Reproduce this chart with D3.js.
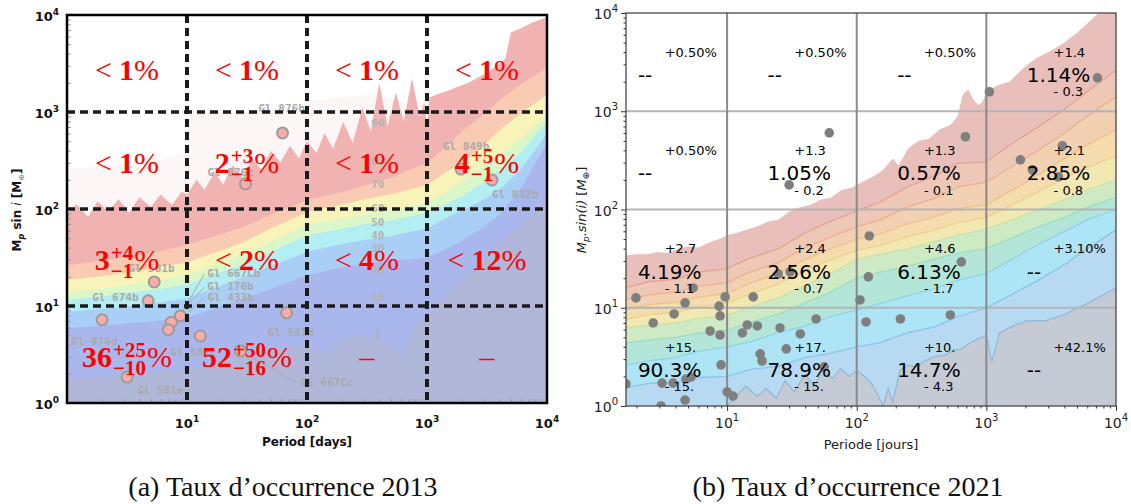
<!DOCTYPE html>
<html>
<head>
<meta charset="utf-8">
<script src="https://cdn.jsdelivr.net/npm/d3@7"></script>
<style>
  body { margin: 0; background: #fff; }
  svg { display: block; }
</style>
</head>
<body>
<svg id="fig" width="1131" height="504"></svg>
<script>
// ---------- panel (a) : 2013 ----------
const grid2013 = [1, 2, 3, 5, 10, 20, 30, 50, 100, 200, 300, 500, 700, 1000, 1400, 2000, 3000, 4000, 6000, 10000];
const faintTopP2013 = [1, 5, 9.5, 10.5, 30, 100, 105, 300, 1000];
const faintTopM2013 = [260, 300, 380, 950, 1000, 1000, 1300, 1500, 1200];
const pinkTopP2013 = [1, 1.2, 1.5, 1.8, 2.2, 2.7, 3.3, 4, 5, 6, 7.5, 9, 10, 12, 14, 17, 20, 24, 29, 35, 42, 50, 60, 72, 86, 100, 120, 140, 165, 200, 240, 290, 340, 400, 470, 550, 640, 750, 870, 950, 1000, 1050, 1200, 1500, 1800, 2200, 2700, 3300, 4000, 4500, 5000, 6000, 7500, 9000, 10000];
const pinkTopM2013 = [89, 112, 83, 120, 95, 126, 91, 132, 105, 141, 110, 151, 141, 200, 158, 240, 178, 282, 209, 331, 251, 398, 302, 447, 331, 501, 380, 603, 417, 794, 479, 1122, 631, 1995, 708, 1585, 794, 2239, 891, 1259, 708, 1413, 1514, 1660, 1820, 1995, 2291, 2630, 3162, 3548, 6607, 7244, 8318, 9120, 9550];
const peach2013 = [26.3, 29.5, 31.6, 34.7, 42.7, 56.2, 66.1, 87.1, 123, 151, 174, 209, 251, 295, 427, 646, 955, 1318, 1905, 2884];
const yellow2013 = [18.6, 20.4, 21.9, 24.0, 28.2, 38.0, 45.7, 63.1, 93.3, 112, 126, 141, 158, 178, 234, 316, 457, 646, 955, 1514];
const green2013 = [13.8, 15.1, 16.2, 17.8, 20.9, 28.2, 33.9, 45.7, 69.2, 79.4, 87.1, 95.5, 105, 115, 145, 200, 282, 363, 525, 933];
const cyan2013 = [11.5, 12.6, 13.5, 14.5, 16.6, 22.9, 27.5, 36.3, 53.7, 63.1, 69.2, 75.9, 83.2, 91.2, 110, 138, 191, 251, 380, 794];
const blue2013 = [8.71, 9.33, 9.77, 10.5, 12.0, 16.6, 20.0, 25.7, 36.3, 43.7, 47.9, 52.5, 57.5, 63.1, 79.4, 97.7, 126, 158, 251, 603];
const lavender2013 = [5.89, 6.31, 6.61, 6.92, 7.59, 10, 12.0, 15.1, 20.9, 25.1, 27.5, 29.5, 30.2, 31.6, 38.0, 47.9, 66.1, 87.1, 158, 479];
const greyP2013 = [1, 2, 3, 5, 10, 20, 30, 50, 100, 150, 200, 300, 400, 500, 600, 700, 800, 1000, 1400, 2000, 3000, 4000, 6000, 10000];
const greyM2013 = [1.74, 1.82, 2.0, 2.09, 2.19, 2.75, 3.09, 3.55, 3.98, 3.16, 4.57, 5.01, 4.37, 3.98, 3.02, 4.17, 6.31, 7.76, 12.0, 18.6, 30.2, 42.7, 69.2, 123];
const bandColors2013 = ["#f1b3b1", "#f9cbb3", "#f8f3b8", "#d9f7c9", "#b2eef2", "#aacff7", "#a9b7ec", "#b1b7d9"];

const levelNames2013 = ["90", "80", "70", "60", "50", "40", "30", "20", "10", "1"];
const levelMass2013 = [771, 313, 181, 102, 73, 54, 40, 23.5, 12.4, 5.3];
const levelPeriod2013 = 389;

const planets2013 = ["Gl 876b", "Gl 876c", "Gl 849b", "Gl 832b", "Gl 581b", "Gl 674b", "Gl 876d", "Gl 667Cb", "Gl 176b", "Gl 433b", "Gl 581c", "Gl 581e", "Gl 667Cc", "Gl 581d"];
const planetP2013 = [62.5, 30.7, 1920, 3480, 5.33, 4.75, 1.96, 8.8, 7.4, 7.0, 12.9, 3.17, 27.9, 67.6];
const planetM2013 = [608, 181, 258, 199, 17.7, 11.3, 7.2, 7.9, 6.8, 5.7, 4.9, 1.85, 3.44, 8.5];

// rows: mass decades 10^3, 10^2, 10^1, 10^0 ; columns: period decades 10^0 .. 10^3
const rateValue2013 = [["<1", "<1", "<1", "<1"], ["<1", "2", "<1", "4"], ["3", "<2", "<4", "<12"], ["36", "52", "", ""]];
const rateUpper2013 = [["", "", "", ""], ["", "+3", "", "+5"], ["+4", "", "", ""], ["+25", "+50", "", ""]];
const rateLower2013 = [["", "", "", ""], ["", "\u22121", "", "\u22121"], ["\u22121", "", "", ""], ["\u221210", "\u221216", "", ""]];

// ---------- panel (b) : 2021 ----------
const grid2021 = [1.66, 2.5, 4, 6, 10, 15, 25, 40, 60, 100, 150, 250, 400, 600, 1000, 1500, 2500, 4000, 6000, 10000];
const redTopP2021 = [1.66, 2, 2.4, 2.9, 3.5, 4.2, 5, 6, 7.2, 8.7, 10, 12, 14.5, 17.4, 21, 25, 30, 36, 44, 52, 63, 76, 91, 110, 132, 158, 190, 210, 250, 300, 360, 440, 525, 600, 660, 725, 795, 870, 935, 1000, 1200, 1500, 2000, 2500, 3200, 4000, 5000, 6300, 7600, 10000];
const redTopM2021 = [34, 35, 35, 37, 36, 40, 42, 41, 46, 50, 55, 58, 63, 68, 76, 79, 95, 105, 112, 126, 132, 158, 166, 190, 214, 250, 330, 280, 420, 500, 525, 660, 720, 890, 1500, 1660, 1320, 1150, 1260, 1580, 1820, 2000, 2880, 3550, 4170, 5000, 6300, 8300, 10500, 14000];
const salmon2021 = [16, 18.5, 19.5, 23, 25, 32, 40, 58, 74, 97, 118, 172, 220, 295, 305, 450, 690, 1050, 1580, 2630];
const peach2021 = [12, 13.5, 14.5, 16.5, 18, 23, 29, 41, 51, 67, 78, 107, 130, 170, 190, 263, 400, 600, 890, 1410];
const orange2021 = [9.5, 10.8, 11.3, 12.8, 14, 17.8, 22.5, 31, 39, 50, 56, 72, 84, 102, 112, 151, 224, 331, 457, 646];
const yellow2021 = [7.6, 8.5, 9, 10.2, 11.2, 13.8, 17.5, 24, 30, 38.5, 43, 53, 62, 73, 83, 107, 151, 209, 269, 347];
const green2021 = [6.3, 6.6, 7.0, 7.8, 8.3, 10.2, 12.7, 17, 21.5, 31, 35, 40, 47, 55, 63, 76, 100, 126, 158, 200];
const teal2021 = [4.4, 4.7, 5.0, 5.5, 5.9, 7.1, 8.6, 11.2, 14, 20, 23, 26.5, 31.5, 36, 40, 50, 66, 83, 105, 132];
const cyan2021 = [2.6, 2.9, 3.1, 3.6, 4.0, 4.5, 5.6, 6.5, 8.0, 9.5, 11, 13.3, 15.7, 19, 22.4, 30, 44, 60, 79, 100];
const blue2021 = [1.55, 1.7, 1.75, 1.95, 2.0, 2.35, 2.55, 3.1, 3.4, 4.0, 4.4, 5.6, 6.4, 8.1, 10, 13.2, 19, 27.5, 40, 62];
const greyP2021 = [1.66, 5, 8, 10, 12, 14, 17, 20, 24, 28, 33, 40, 47, 55, 65, 75, 88, 100, 115, 130, 145, 160, 175, 190, 215, 250, 290, 340, 400, 480, 560, 640, 730, 850, 1000, 1100, 1260, 1600, 2050, 2900, 4000, 6000, 10000];
const greyM2021 = [0.7, 0.8, 0.9, 1.0, 1.3, 1.6, 1.25, 1.5, 1.2, 1.8, 1.4, 2.1, 1.6, 2.3, 1.9, 2.4, 2.0, 2.3, 2.0, 1.7, 1.3, 1.0, 1.5, 1.1, 2.3, 2.6, 2.5, 2.9, 3.2, 3.3, 3.7, 3.8, 4.3, 4.8, 5.2, 2.8, 5.5, 6.5, 7.4, 7.4, 8.5, 11, 16];
const bandColors2021 = ["#e9bfbb", "#eec7b7", "#f2d0b2", "#f4dcae", "#f2e8b2", "#cdeac4", "#b3e6d8", "#ade5f6", "#b7d9f2", "#c4cbd4"];
const lineColors2021 = ["#e2a393", "#eab08f", "#efc08a", "#f0cf8a", "#c8e2a8", "#9edcc0", "#8dd3e6", "#8cc3ea", "#95b8d6"];

const planetP2021 = [61.4, 30.1, 1055, 7190, 689, 3860, 1830, 2265, 3600, 125, 123, 1.98, 5.46, 4.74, 9.66, 8.67, 8.83, 15.9, 3.90, 2.69, 24.8, 30.6, 106, 48.6, 118, 7.40, 8.83, 14.3, 17.1, 25.6, 36.7, 13.1, 28.6, 18.0, 18.6, 8.99, 1.66, 3.15, 3.83, 5.27, 4.81, 10.0, 11.1, 4.74, 3.09, 56.1, 217, 527, 641];
const planetM2021 = [603, 178, 1580, 2190, 550, 444, 320, 253, 215, 53.8, 20.6, 12.6, 15.9, 11.2, 12.9, 10.4, 8.26, 12.9, 8.65, 7.0, 22.1, 23.2, 12.0, 7.69, 7.17, 5.80, 5.28, 6.68, 6.53, 6.23, 5.41, 5.54, 3.81, 3.39, 2.87, 2.62, 1.68, 1.71, 1.71, 1.97, 1.88, 1.39, 1.26, 1.15, 1.0, 2.50, 7.69, 8.45, 29.3];

const occValue2021 = [["--", "--", "--", "1.14%"], ["--", "1.05%", "0.57%", "2.85%"], ["4.19%", "2.56%", "6.13%", "--"], ["90.3%", "78.9%", "14.7%", "--"]];
const occPlus2021 = [["+0.50%", "+0.50%", "+0.50%", "+1.4"], ["+0.50%", "+1.3", "+1.3", "+2.1"], ["+2.7", "+2.4", "+4.6", "+3.10%"], ["+15.", "+17.", "+10.", "+42.1%"]];
const occMinus2021 = [["", "", "", "- 0.3"], ["", "- 0.2", "- 0.1", "- 0.8"], ["- 1.1", "- 0.7", "- 1.7", ""], ["- 15.", "- 15.", "- 4.3", ""]];

const decades = [1, 10, 100, 1000, 10000];
const captions = ["(a) Taux d\u2019occurrence 2013", "(b) Taux d\u2019occurrence 2021"];

// ---------- drawing ----------
const svg = d3.select("#fig");
const defs = svg.append("defs");

function clipRect(id, x0, y0, x1, y1) {
    defs.append("clipPath").attr("id", id).append("rect")
        .attr("x", x0).attr("y", y0).attr("width", x1 - x0).attr("height", y1 - y0);
    return "url(#" + id + ")";
}

function fillBelow(g, xs, ys, P, M, color, bottom, opacity) {
    const area = d3.area().x(d => xs(d[0])).y0(bottom).y1(d => ys(d[1]));
    g.append("path").datum(d3.zip(P, M)).attr("d", area)
        .attr("fill", color).attr("fill-opacity", opacity == null ? 1 : opacity);
}

function powText(sel, exp, supSize, rise) {
    sel.append("tspan").text("10");
    sel.append("tspan").attr("dy", -rise).attr("font-size", supSize).text(exp);
}

// ===== panel (a) =====
const A = {l: 67, r: 547, t: 15, b: 403};
const xA = d3.scaleLog().domain([1, 1e4]).range([A.l, A.r]);
const yA = d3.scaleLog().domain([1, 1e4]).range([A.b, A.t]);
const gA = svg.append("g");
const bgA = gA.append("g").attr("clip-path", clipRect("clipA", A.l, A.t, A.r, A.b));

fillBelow(bgA, xA, yA, faintTopP2013, faintTopM2013, bandColors2013[0], A.b, 0.12);
fillBelow(bgA, xA, yA, pinkTopP2013, pinkTopM2013, bandColors2013[0], A.b);
[peach2013, yellow2013, green2013, cyan2013, blue2013, lavender2013].forEach((m, i) => {
    fillBelow(bgA, xA, yA, grid2013, m, bandColors2013[i + 1], A.b);
});
fillBelow(bgA, xA, yA, greyP2013, greyM2013, bandColors2013[7], A.b);

// contour level labels
gA.append("g").selectAll("text").data(levelNames2013).join("text")
    .attr("x", xA(levelPeriod2013)).attr("y", (d, i) => yA(levelMass2013[i]) + 4)
    .attr("text-anchor", "middle").attr("font-family", "DejaVu Sans Mono").attr("font-weight", "bold")
    .attr("font-size", 11).attr("fill", "#b2b2b2").text(d => d);

// planets
const labelOffset2013 = [[-24, -21], [-38, -8], [-18, -19], [0, 18], [-26, -10], [-56, 0], [-31, 25], [27, -39], [36, -32], [39, -29], [-30, 20], [10, 17], [60, 35], [-19, 23]];
const leader2013 = [7, 8, 9, 12];
const plA = gA.append("g");
leader2013.forEach(i => {
    const x = xA(planetP2013[i]), y = yA(planetM2013[i]);
    plA.append("line").attr("x1", x).attr("y1", y)
        .attr("x2", x + labelOffset2013[i][0] - 3).attr("y2", y + labelOffset2013[i][1] - 3)
        .attr("stroke", "#aaa").attr("stroke-width", 1);
});
plA.selectAll("text").data(planets2013).join("text")
    .attr("x", (d, i) => xA(planetP2013[i]) + labelOffset2013[i][0])
    .attr("y", (d, i) => yA(planetM2013[i]) + labelOffset2013[i][1])
    .attr("font-family", "DejaVu Sans Mono").attr("font-weight", "bold").attr("font-size", 11)
    .attr("fill", "#a9a9a9").text(d => d);
plA.selectAll("circle").data(planets2013).join("circle")
    .attr("cx", (d, i) => xA(planetP2013[i])).attr("cy", (d, i) => yA(planetM2013[i]))
    .attr("r", 5.5).attr("fill", "#f9aca9").attr("stroke", "#9c9c9c").attr("stroke-width", 2);

// dashed grid
const dashA = gA.append("g").attr("stroke", "#1a1a1a").attr("stroke-width", 3.5).attr("stroke-dasharray", "8,5");
decades.slice(1, 4).forEach(v => {
    dashA.append("line").attr("x1", A.l).attr("x2", A.r).attr("y1", yA(v)).attr("y2", yA(v));
    dashA.append("line").attr("y1", A.t).attr("y2", A.b).attr("x1", xA(v)).attr("x2", xA(v)).attr("stroke-width", 4);
});

// occurrence rates (red)
const rowShift = [16, 12, 12, 12];
const redA = gA.append("g").attr("font-family", "Liberation Serif, DejaVu Serif, serif").attr("fill", "#ff0000");
rateValue2013.forEach((row, i) => row.forEach((v, j) => {
    const cx = xA(Math.pow(10, j + 0.5));
    const base = yA(Math.pow(10, 3 - i + 0.5)) + rowShift[i];
    const g = redA.append("g");
    if (v === "") {
        g.append("text").attr("font-size", 30).text("\u2013");
    } else if (v[0] === "<") {
        const t = g.append("text").attr("font-size", 30);
        t.append("tspan").text("<");
        t.append("tspan").attr("dx", 7).attr("font-weight", "bold").text(v.slice(1));
        t.append("tspan").text("%");
    } else {
        const t = g.append("text").attr("font-size", 30).attr("font-weight", "bold").text(v);
        const w = t.node().getComputedTextLength();
        const up = g.append("text").attr("x", w + 1).attr("y", -10).attr("font-size", 21).attr("font-weight", "bold").text(rateUpper2013[i][j]);
        const lo = g.append("text").attr("x", w + 1).attr("y", 8).attr("font-size", 21).attr("font-weight", "bold").text(rateLower2013[i][j]);
        const w2 = Math.max(up.node().getComputedTextLength(), lo.node().getComputedTextLength());
        g.append("text").attr("x", w + w2 + 2).attr("font-size", 30).text("%");
    }
    const bb = g.node().getBBox();
    g.attr("transform", `translate(${cx - bb.x - bb.width / 2},${base})`);
}));

// axes (a)
function innerTicks(g, axis) {
    g.call(axis);
    g.select(".domain").remove();
    g.selectAll("line").attr("stroke", "#9a9a9a");
}
const minorA = xA.ticks().filter(v => !decades.includes(v));
innerTicks(gA.append("g").attr("transform", `translate(0,${A.b})`),
    d3.axisBottom(xA).tickValues(minorA).tickSize(-4).tickFormat(""));
innerTicks(gA.append("g").attr("transform", `translate(${A.l},0)`),
    d3.axisLeft(yA).tickValues(minorA).tickSize(-4).tickFormat(""));
gA.append("rect").attr("x", A.l).attr("y", A.t).attr("width", A.r - A.l).attr("height", A.b - A.t)
    .attr("fill", "none").attr("stroke", "#000").attr("stroke-width", 2.5);

const tickA = gA.append("g").attr("font-family", "DejaVu Sans").attr("font-weight", "bold").attr("fill", "#111");
decades.forEach((v, k) => {
    powText(tickA.append("text").attr("x", A.l - 8).attr("y", yA(v) + 6).attr("text-anchor", "end").attr("font-size", 13), k, 9, 6);
    if (k > 0) powText(tickA.append("text").attr("x", xA(v)).attr("y", A.b + 25).attr("text-anchor", "middle").attr("font-size", 13), k, 9, 6);
});
tickA.append("text").attr("x", (A.l + A.r) / 2).attr("y", 446).attr("text-anchor", "middle").attr("font-size", 12).text("Period [days]");
const ylabA = tickA.append("text").attr("transform", "translate(21,210) rotate(-90)").attr("text-anchor", "middle").attr("font-size", 12);
ylabA.append("tspan").text("M");
ylabA.append("tspan").attr("dy", 3).attr("font-size", 8).attr("font-style", "italic").text("p");
ylabA.append("tspan").attr("dy", -3).text(" sin ");
ylabA.append("tspan").attr("font-style", "italic").attr("font-weight", "normal").text("i");
ylabA.append("tspan").text(" [M");
ylabA.append("tspan").attr("dy", 3).attr("font-size", 8).attr("fill", "#999").text("\u2295");
ylabA.append("tspan").attr("dy", -3).text("]");

// ===== panel (b) =====
const B = {l: 626, r: 1116, t: 13, b: 406};
const xB = d3.scaleLog().domain([1.66, 1e4]).range([B.l, B.r]);
const yB = d3.scaleLog().domain([1, 1e4]).range([B.b, B.t]);
const gB = svg.append("g");
const clipB = clipRect("clipB", B.l, B.t, B.r, B.b);
const bgB = gB.append("g").attr("clip-path", clipB);

const contours2021 = [salmon2021, peach2021, orange2021, yellow2021, green2021, teal2021, cyan2021, blue2021];
fillBelow(bgB, xB, yB, redTopP2021, redTopM2021, bandColors2021[0], B.b);
contours2021.forEach((m, i) => fillBelow(bgB, xB, yB, grid2021, m, bandColors2021[i + 1], B.b));
fillBelow(bgB, xB, yB, greyP2021, greyM2021, bandColors2021[9], B.b);
const lineB = d3.line().x(d => xB(d[0])).y(d => yB(d[1]));
contours2021.forEach((m, i) => {
    bgB.append("path").datum(d3.zip(grid2021, m)).attr("d", lineB)
        .attr("fill", "none").attr("stroke", lineColors2021[i]).attr("stroke-width", 1.3);
});
bgB.append("path").datum(d3.zip(greyP2021, greyM2021)).attr("d", lineB)
    .attr("fill", "none").attr("stroke", lineColors2021[8]).attr("stroke-width", 1.3);

// grid
decades.slice(1, 4).forEach(v => {
    gB.append("line").attr("x1", B.l).attr("x2", B.r).attr("y1", yB(v)).attr("y2", yB(v))
        .attr("stroke", "#b4b4b4").attr("stroke-width", 2);
});
decades.slice(1, 4).forEach(v => {
    gB.append("line").attr("y1", B.t).attr("y2", B.b).attr("x1", xB(v)).attr("x2", xB(v))
        .attr("stroke", "#8a8a8a").attr("stroke-width", 2);
});

// planets
gB.append("g").attr("clip-path", clipB).selectAll("circle").data(planetP2021).join("circle")
    .attr("cx", d => xB(d)).attr("cy", (d, i) => yB(planetM2021[i]))
    .attr("r", 4.8).attr("fill", "#7f7f7f");

// occurrence rates
const txtB = gB.append("g").attr("font-family", "DejaVu Sans").attr("fill", "#000");
occValue2021.forEach((row, i) => row.forEach((v, j) => {
    const k = 3 - i;
    const xBig = xB(2.05 * Math.pow(10, j)), xSmall = xB(3.3 * Math.pow(10, j));
    txtB.append("text").attr("x", xBig).attr("y", yB(Math.pow(10, k + 0.37))).attr("dy", "0.36em")
        .attr("font-size", 20).text(v);
    txtB.append("text").attr("x", xSmall).attr("y", yB(Math.pow(10, k + 0.6))).attr("dy", "0.36em")
        .attr("font-size", 13).text(occPlus2021[i][j]);
    if (occMinus2021[i][j]) txtB.append("text").attr("x", xSmall).attr("y", yB(Math.pow(10, k + 0.2))).attr("dy", "0.36em")
        .attr("font-size", 13).text(occMinus2021[i][j]);
}));

// axes (b)
function outerTicks(g, axis) {
    g.call(axis);
    g.select(".domain").remove();
    g.selectAll("line").attr("stroke", "#333");
}
outerTicks(gB.append("g").attr("transform", `translate(0,${B.b})`), d3.axisBottom(xB).tickValues(decades.slice(1)).tickSize(5).tickFormat(""));
outerTicks(gB.append("g").attr("transform", `translate(0,${B.b})`), d3.axisBottom(xB).tickValues(xB.ticks().filter(v => !decades.includes(v))).tickSize(2.5).tickFormat(""));
outerTicks(gB.append("g").attr("transform", `translate(${B.l},0)`), d3.axisLeft(yB).tickValues(decades).tickSize(5).tickFormat(""));
outerTicks(gB.append("g").attr("transform", `translate(${B.l},0)`), d3.axisLeft(yB).tickValues(yB.ticks().filter(v => !decades.includes(v))).tickSize(2.5).tickFormat(""));
gB.append("rect").attr("x", B.l).attr("y", B.t).attr("width", B.r - B.l).attr("height", B.b - B.t)
    .attr("fill", "none").attr("stroke", "#3a3a3a").attr("stroke-width", 1.2);

const tickB = gB.append("g").attr("font-family", "DejaVu Sans").attr("fill", "#222");
decades.forEach((v, k) => {
    powText(tickB.append("text").attr("x", B.l - 8).attr("y", yB(v) + 6).attr("text-anchor", "end").attr("font-size", 14), k, 10, 7);
    if (k > 0) powText(tickB.append("text").attr("x", xB(v)).attr("y", B.b + 22).attr("text-anchor", "middle").attr("font-size", 14), k, 10, 7);
});
tickB.append("text").attr("x", (B.l + B.r) / 2).attr("y", 449).attr("text-anchor", "middle").attr("font-size", 13).text("Periode [jours]");
const ylabB = tickB.append("text").attr("transform", "translate(586,210) rotate(-90)").attr("text-anchor", "middle").attr("font-size", 13);
ylabB.append("tspan").attr("font-style", "italic").text("M");
ylabB.append("tspan").attr("dy", 3).attr("font-size", 9).attr("font-style", "italic").text("p");
ylabB.append("tspan").attr("dy", -3).attr("font-style", "italic").text(".sin(i)");
ylabB.append("tspan").text(" [");
ylabB.append("tspan").attr("font-style", "italic").text("M");
ylabB.append("tspan").attr("dy", 3).attr("font-size", 9).text("\u2295");
ylabB.append("tspan").attr("dy", -3).text("]");

// captions
svg.append("g").attr("font-family", "Liberation Serif, serif").attr("font-size", 28).attr("fill", "#111")
    .selectAll("text").data(captions).join("text")
    .attr("x", (d, i) => i === 0 ? 283 : 848).attr("y", 496).attr("text-anchor", "middle").text(d => d);
</script>
</body>
</html>
